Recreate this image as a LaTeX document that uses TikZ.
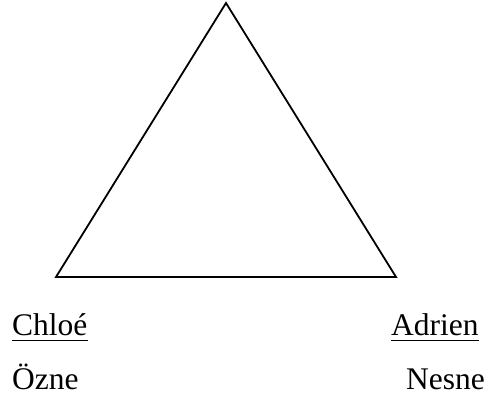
\documentclass[tikz,border=0pt]{standalone}
\usepackage{fontspec}
\setmainfont{Liberation Serif}
\begin{document}
\begin{tikzpicture}[x=1pt,y=-1pt,
  lbl/.style={inner sep=0pt,font=\fontsize{31.5}{36}\selectfont},
  edge/.style={line width=1.8pt,line join=miter},
  uline/.style={line width=1.5pt}]
\useasboundingbox (0,0) rectangle (487,400);
\coordinate (top) at (226,3);
\coordinate (bl) at (56,277);
\coordinate (br) at (396,277);
\draw[edge] (top) -- (bl) -- (br) -- cycle;
\node[lbl,anchor=base west] (chloe) at (12,335) {Chloé};
\node[lbl,anchor=base west] (adrien) at (391,335) {Adrien};
\node[lbl,anchor=base west] (ozne) at (12,389) {Özne};
\node[lbl,anchor=base east] (nesne) at (485,389) {Nesne};
\draw[uline] ([yshift=-5.5pt]chloe.base west) -- ([yshift=-5.5pt]chloe.base east);
\draw[uline] ([yshift=-5.5pt]adrien.base west) -- ([yshift=-5.5pt]adrien.base east);
\end{tikzpicture}
\end{document}
